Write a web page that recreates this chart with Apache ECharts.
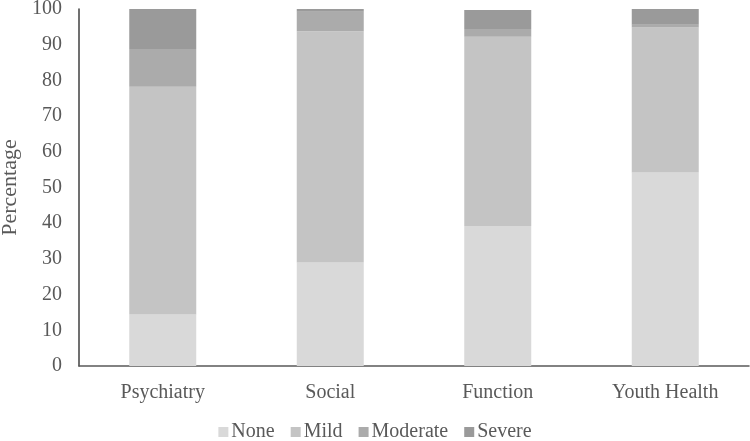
<!DOCTYPE html>
<html>
<head>
<meta charset="utf-8">
<script src="https://cdn.jsdelivr.net/npm/echarts@6/dist/echarts.min.js"></script>
<style>html,body{margin:0;padding:0;background:#fff}#c{width:750px;height:441px}</style>
</head>
<body>
<div id="c"></div>
<script>
const categories = ['Psychiatry', 'Social', 'Function', 'Youth Health'];
const seriesNames = ['None', 'Mild', 'Moderate', 'Severe'];
const noneVals = [14.4, 29.0, 39.2, 54.2];
const mildVals = [63.8, 64.8, 53.0, 40.6];
const moderateVals = [10.6, 5.4, 2.2, 0.8];
const severeVals = [11.2, 0.8, 5.3, 4.4];
const yTicks = [0, 10, 20, 30, 40, 50, 60, 70, 80, 90, 100];
const colors = ['#d9d9d9', '#c4c4c4', '#ababab', '#9a9a9a'];

const font = 'Liberation Serif';
const chart = echarts.init(document.getElementById('c'), null, {renderer: 'canvas'});
const dataSets = [noneVals, mildVals, moderateVals, severeVals];
chart.setOption({
  animation: false,
  grid: {left: 79, right: 1, top: 9, bottom: 75, containLabel: false, outerBoundsMode: 'none'},
  legend: {
    bottom: -6, left: 'center',
    itemWidth: 10, itemHeight: 10, itemGap: 16,
    icon: 'rect',
    textStyle: {fontFamily: font, fontSize: 20, color: '#595959', padding: [0, 0, 0, -2]},
    data: seriesNames
  },
  xAxis: {
    type: 'category',
    data: categories,
    axisLine: {lineStyle: {color: '#595959', width: 1.5}},
    axisTick: {show: false},
    axisLabel: {fontFamily: font, fontSize: 20, color: '#595959', margin: 17}
  },
  yAxis: {
    type: 'value',
    min: yTicks[0], max: yTicks[yTicks.length - 1], interval: 10,
    name: 'Percentage',
    nameLocation: 'middle',
    nameGap: 58,
    nameTextStyle: {fontFamily: font, fontSize: 22, color: '#595959'},
    axisLine: {show: true, lineStyle: {color: '#404040', width: 1.5}},
    axisTick: {show: false},
    splitLine: {show: false},
    axisLabel: {fontFamily: font, fontSize: 20, color: '#595959', margin: 17}
  },
  series: seriesNames.map((n, i) => ({
    name: n,
    type: 'bar',
    stack: 'total',
    barWidth: '40%',
    itemStyle: {color: colors[i]},
    data: dataSets[i]
  }))
});
</script>
</body>
</html>
